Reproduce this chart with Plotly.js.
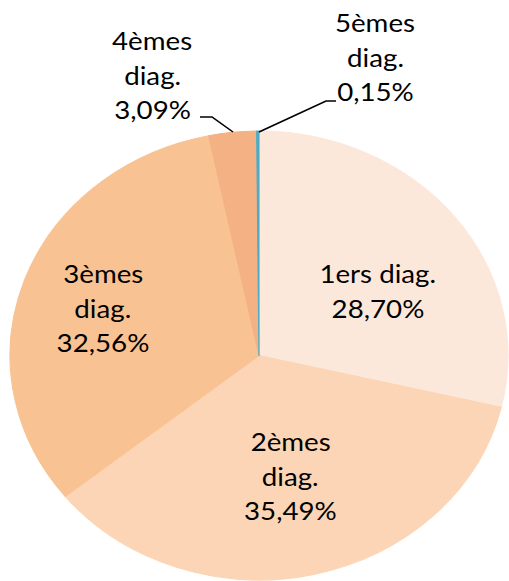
<!DOCTYPE html>
<html>
<head>
<meta charset="utf-8">
<script src="https://cdn.plot.ly/plotly-3.0.1.min.js"></script>
<style>
html,body{margin:0;padding:0;background:#fff;overflow:hidden;width:509px;height:581px;}
#plot{width:459px;height:581px;transform:scaleX(1.10893);transform-origin:0 0;}
</style>
</head>
<body>
<div id="plot"></div>
<script>
// Data
var categories = ['1ers diag.', '2èmes diag.', '3èmes diag.', '4èmes diag.', '5èmes diag.'];
var values = [28.70, 35.49, 32.56, 3.09, 0.15];
var colors = ['#FCE8DA', '#FBD5B5', '#F8C292', '#F4B184', '#4BACC6'];

// Label layout (output pixel positions of each text line, page is 509x581)
var W = 509, H = 581;
var labelLineSplit = [['1ers diag.'], ['2èmes', 'diag.'], ['3èmes', 'diag.'], ['4èmes', 'diag.'], ['5èmes', 'diag.']];
var labelX = [378, 290, 103, 152, 375];
var labelFirstY = [273, 441, 273, 40, 22];
var lineStep = 34.5;

function fmt(v){ return v.toFixed(2).replace('.', ',') + '%'; }

var annotations = [];
for (var i = 0; i < categories.length; i++) {
  var lines = labelLineSplit[i].concat([fmt(values[i])]);
  for (var j = 0; j < lines.length; j++) {
    annotations.push({
      text: lines[j], showarrow: false,
      xref: 'paper', yref: 'paper',
      x: labelX[i] / W, y: 1 - (labelFirstY[i] + j * lineStep) / H,
      xanchor: 'center', yanchor: 'middle',
      font: {family: 'Lato, "Open Sans", sans-serif', size: 25, color: '#000'}
    });
  }
}

function px(x, y){ return (x / W).toFixed(5) + ',' + (1 - y / H).toFixed(5); }
var shapes = [
  {type: 'path', xref: 'paper', yref: 'paper',
   path: 'M' + px(200, 117) + ' L' + px(212, 117) + ' L' + px(233, 132),
   line: {color: '#000', width: 1.5}},
  {type: 'path', xref: 'paper', yref: 'paper',
   path: 'M' + px(259, 132) + ' L' + px(326, 101) + ' L' + px(336, 101),
   line: {color: '#000', width: 1.5}}
];

var trace = {
  type: 'pie',
  labels: categories,
  values: values,
  sort: false,
  direction: 'clockwise',
  rotation: 0,
  textinfo: 'none',
  hoverinfo: 'label+percent',
  marker: {colors: colors, line: {width: 1, color: colors}},
  domain: {x: [(259 - 249) / W, (259 + 249) / W], y: [1 - 580 / H, 1 - 131 / H]},
  showlegend: false
};

var layout = {
  width: 459, height: 581,
  margin: {l: 0, r: 0, t: 0, b: 0},
  paper_bgcolor: '#fff',
  showlegend: false,
  annotations: annotations,
  shapes: shapes
};

Plotly.newPlot('plot', [trace], layout, {displayModeBar: false, staticPlot: true});
</script>
</body>
</html>
